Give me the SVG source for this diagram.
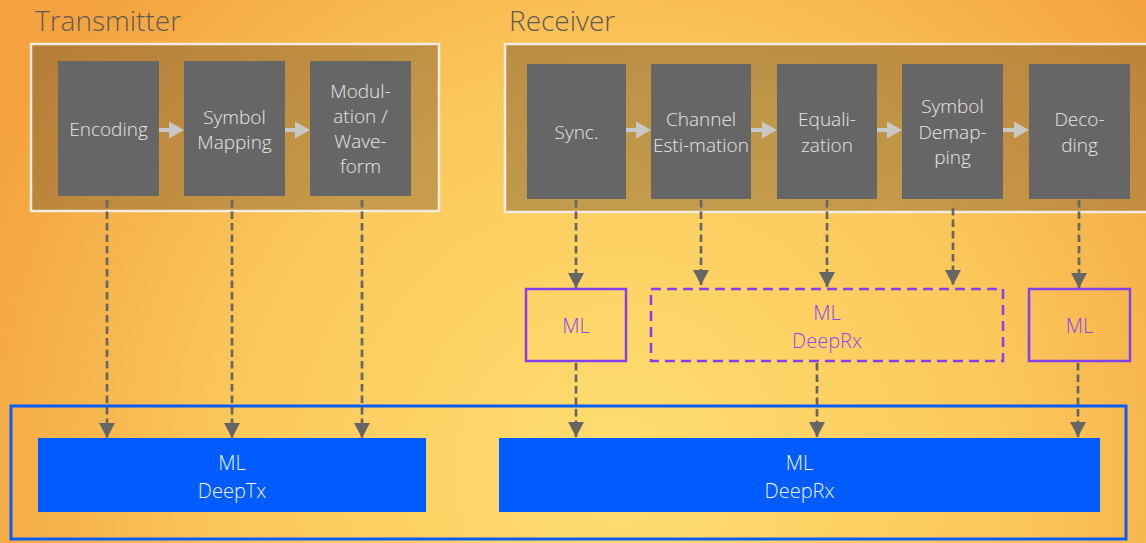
<svg xmlns="http://www.w3.org/2000/svg" width="1146" height="543" viewBox="0 0 1146 543">
<defs>
<radialGradient id="bg" cx="620" cy="470" r="700" gradientUnits="userSpaceOnUse">
<stop offset="0" stop-color="#ffde70"/>
<stop offset="0.55" stop-color="#fbc85c"/>
<stop offset="1" stop-color="#f3a23f"/>
</radialGradient>
<linearGradient id="cont" x1="0" y1="0" x2="1" y2="1">
<stop offset="0" stop-color="#7a5a30" stop-opacity="0.5"/>
<stop offset="1" stop-color="#7a5a30" stop-opacity="0.4"/>
</linearGradient>
<marker id="ah" viewBox="0 0 15 16" refX="15" refY="8" markerWidth="15" markerHeight="16" markerUnits="userSpaceOnUse" orient="auto">
<path d="M0,0 L15,8 L0,16 Z" fill="#666666"/>
</marker>
<style>
.title{font-family:"Open Sans","Noto Sans",sans-serif;font-size:28px;fill:#5f5a55;font-weight:300}
.blk{fill:#666666}
.bt{font-family:"Open Sans","Noto Sans",sans-serif;font-size:19px;fill:#e6e6e6;text-anchor:middle;font-weight:300}
.ml{fill:none;stroke:#8440f0;stroke-width:2.5}
.mlt{font-family:"Open Sans","Noto Sans",sans-serif;font-size:20px;fill:#8a48f0;text-anchor:middle;font-weight:300}
.deep{fill:#005cff}
.dt{font-family:"Open Sans","Noto Sans",sans-serif;font-size:20px;fill:#f4f4ff;text-anchor:middle;font-weight:300}
.conn{stroke:#666666;stroke-width:2.7;stroke-dasharray:7.5 4;fill:none;marker-end:url(#ah)}
.garr{fill:#c8c8c8}
</style>
</defs>
<rect x="0" y="0" width="1146" height="543" fill="url(#bg)"/>

<text class="title" x="35" y="31">Transmitter</text>
<text class="title" x="509" y="31">Receiver</text>

<g id="tx-container">
<rect x="31" y="44" width="408" height="167" fill="url(#cont)" stroke="#f2ece0" stroke-width="2.5"/>
</g>
<g id="rx-container">
<rect x="505" y="44" width="650" height="168" fill="url(#cont)" stroke="#f2ece0" stroke-width="2.5"/>
</g>

<g id="encoding"><rect class="blk" x="58" y="61" width="101" height="135"/><text class="bt" x="108.5" y="136">Encoding</text></g>
<g id="symbol-mapping"><rect class="blk" x="184" y="61" width="101" height="135"/><text class="bt" x="234.5" y="124">Symbol</text><text class="bt" x="234.5" y="149">Mapping</text></g>
<g id="modulation"><rect class="blk" x="310" y="61" width="101" height="135"/><text class="bt" x="360.5" y="98">Modul-</text><text class="bt" x="360.5" y="123">ation /</text><text class="bt" x="360.5" y="148">Wave-</text><text class="bt" x="360.5" y="173">form</text></g>

<g id="sync"><rect class="blk" x="527" y="64" width="99" height="135"/><text class="bt" x="576.5" y="139">Sync.</text></g>
<g id="channel-estimation"><rect class="blk" x="651" y="64" width="100" height="135"/><text class="bt" x="701" y="126">Channel</text><text class="bt" x="701" y="152">Esti-mation</text></g>
<g id="equalization"><rect class="blk" x="777" y="64" width="100" height="135"/><text class="bt" x="827" y="126">Equali-</text><text class="bt" x="827" y="152">zation</text></g>
<g id="symbol-demapping"><rect class="blk" x="902" y="64" width="101" height="135"/><text class="bt" x="952.5" y="113">Symbol</text><text class="bt" x="952.5" y="139">Demap-</text><text class="bt" x="952.5" y="164">ping</text></g>
<g id="decoding"><rect class="blk" x="1029" y="64" width="101" height="135"/><text class="bt" x="1079.5" y="126">Deco-</text><text class="bt" x="1079.5" y="152">ding</text></g>

<g id="ml-sync"><rect class="ml" x="526" y="289" width="100" height="72"/><text class="mlt" x="576" y="333">ML</text></g>
<g id="ml-deeprx-dashed"><rect class="ml" x="651" y="289" width="352" height="72" stroke-dasharray="10 6"/><text class="mlt" x="827" y="320">ML</text><text class="mlt" x="827" y="348">DeepRx</text></g>
<g id="ml-decoding"><rect class="ml" x="1029" y="289" width="101" height="72"/><text class="mlt" x="1079.5" y="333">ML</text></g>

<g id="ml-frame"><rect x="11" y="406" width="1115" height="133" fill="none" stroke="#0a5cf5" stroke-width="3"/></g>
<g id="deeptx"><rect class="deep" x="38" y="438" width="388" height="74"/><text class="dt" x="232" y="470">ML</text><text class="dt" x="232" y="498">DeepTx</text></g>
<g id="deeprx"><rect class="deep" x="499" y="438" width="601" height="74"/><text class="dt" x="799.5" y="470">ML</text><text class="dt" x="799.5" y="498">DeepRx</text></g>

<g id="connectors">
<path class="garr" d="M159,128 h10 v-6.5 l15,8.5 l-15,8.5 v-6.5 h-10 z"/>
<path class="garr" d="M285,128 h10 v-6.5 l15,8.5 l-15,8.5 v-6.5 h-10 z"/>
<path class="garr" d="M626,128 h10 v-6.5 l15,8.5 l-15,8.5 v-6.5 h-10 z"/>
<path class="garr" d="M751,128 h11 v-6.5 l15,8.5 l-15,8.5 v-6.5 h-11 z"/>
<path class="garr" d="M877,128 h10 v-6.5 l15,8.5 l-15,8.5 v-6.5 h-10 z"/>
<path class="garr" d="M1003,128 h11 v-6.5 l15,8.5 l-15,8.5 v-6.5 h-11 z"/>

<line class="conn" x1="107" y1="200" x2="107" y2="438"/>
<line class="conn" x1="232" y1="200" x2="232" y2="438"/>
<line class="conn" x1="362" y1="200" x2="362" y2="438"/>

<line class="conn" x1="576" y1="200" x2="576" y2="288"/>
<line class="conn" x1="701" y1="200" x2="701" y2="285"/>
<line class="conn" x1="827" y1="200" x2="827" y2="287"/>
<line class="conn" x1="953" y1="208" x2="953" y2="285"/>
<line class="conn" x1="1079" y1="200" x2="1079" y2="288"/>

<line class="conn" x1="576" y1="363" x2="576" y2="437"/>
<line class="conn" x1="817" y1="363" x2="817" y2="437"/>
<line class="conn" x1="1078" y1="363" x2="1078" y2="437"/>
</g>
</svg>
